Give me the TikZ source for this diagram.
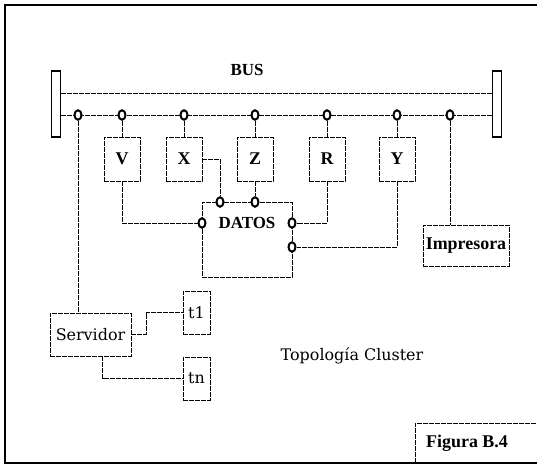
\documentclass[tikz,border=0pt]{standalone}
\usepackage{fontspec}
\setmainfont{DejaVu Serif}
\newfontfamily\boldserif{Liberation Serif}
\usetikzlibrary{shapes.geometric, positioning}

\begin{document}
\begin{tikzpicture}[x=1bp, y=-1bp, line width=0.7bp,
  scan/.style={dash pattern=on 5bp off 1bp},
  unit/.style={draw, scan, fill=white, minimum width=36bp, minimum height=44bp,
               inner sep=0pt, font=\boldserif\bfseries\fontsize{18}{18}\selectfont},
  port/.style={draw, ellipse, fill=white, line width=2bp, minimum width=7bp,
               minimum height=9.5bp, inner sep=0pt},
  term/.style={draw, line width=1.8bp, minimum width=9bp, minimum height=66bp, inner sep=0pt},
  plain/.style={font=\fontsize{16}{16}\selectfont},
  heavy/.style={font=\boldserif\bfseries\fontsize{18}{18}\selectfont}]

\useasboundingbox (0,0) rectangle (537,464);

% ---------- frame ----------
\draw[line width=1.4bp] (537,5) -- (5,5) -- (5,463) -- (537,463);
\draw[scan] (415,463) -- (415,423) -- (537,423);
\node[heavy] (fig) at (467,443) {Figura B.4};

% ---------- bus ----------
\node[term] (termL) at (56,104) {};
\node[term] (termR) at (497,104) {};
\node[heavy, font=\boldserif\bfseries\fontsize{17}{17}\selectfont] (bus) at (247,70) {BUS};

\draw[scan] ([yshift=11bp]termL.east) -- ([yshift=11bp]termR.west);
\draw[scan] ([yshift=-11bp]termL.east) -- ([yshift=-11bp]termR.west);

% ports on the bus + the five units hanging from them
\node[port] (pS) at (78,115) {};
\node[port] (pI) at (450,115) {};
\foreach \n/\x in {V/122, X/184, Z/255, R/327, Y/397} {
  \node[port] (p\n) at (\x,115) {};
  \node[unit] (\n) at (\x,159) {\n};
  \draw[scan] (p\n) -- (\n);
}

% ---------- DATOS ----------
\node[draw, scan, minimum width=90bp, minimum height=75bp, inner sep=0pt] (datos) at (247,239.5) {};
\node[heavy, font=\boldserif\bfseries\fontsize{17}{17}\selectfont] (datoslbl) at (247,223) {DATOS};

\node[port] (dX) at (220,202) {};
\node[port] (dZ) at (255,202) {};
\node[port] (dV) at (202,223) {};
\node[port] (dR) at (292,223) {};
\node[port] (dY) at (292,247) {};

\draw[scan] (X.east) -| (dX);
\draw[scan] (Z) -- (dZ);
\draw[scan] (V.south) |- (dV);
\draw[scan] (R.south) |- (dR);
\draw[scan] (Y.south) |- (dY);

% ---------- printer ----------
\node[draw, scan, minimum width=86bp, minimum height=41bp, inner sep=0pt, heavy] (imp) at (466,245.5) {Impresora};
\draw[scan] (pI) -- (pI |- imp.north);

% ---------- server + terminals ----------
\node[draw, scan, minimum width=81bp, minimum height=43bp, inner sep=0pt, plain] (srv) at (90.5,334.5) {Servidor};
\node[draw, scan, minimum width=27bp, minimum height=43bp, inner sep=0pt, plain] (t1) at (196.5,312.5) {t1};
\node[draw, scan, minimum width=27bp, minimum height=43bp, inner sep=0pt, plain] (tn) at (196.5,378.5) {tn};

\draw[scan] (pS) -- (pS |- srv.north);
\coordinate (srvk) at (146,334.5);
\draw[scan] (srv.east) -- (srvk) |- (t1.west);
\draw[scan] ([xshift=12bp]srv.south) |- (tn.west);

\node[plain] (topo) at (352,356) {Topología Cluster};

\end{tikzpicture}
\end{document}
